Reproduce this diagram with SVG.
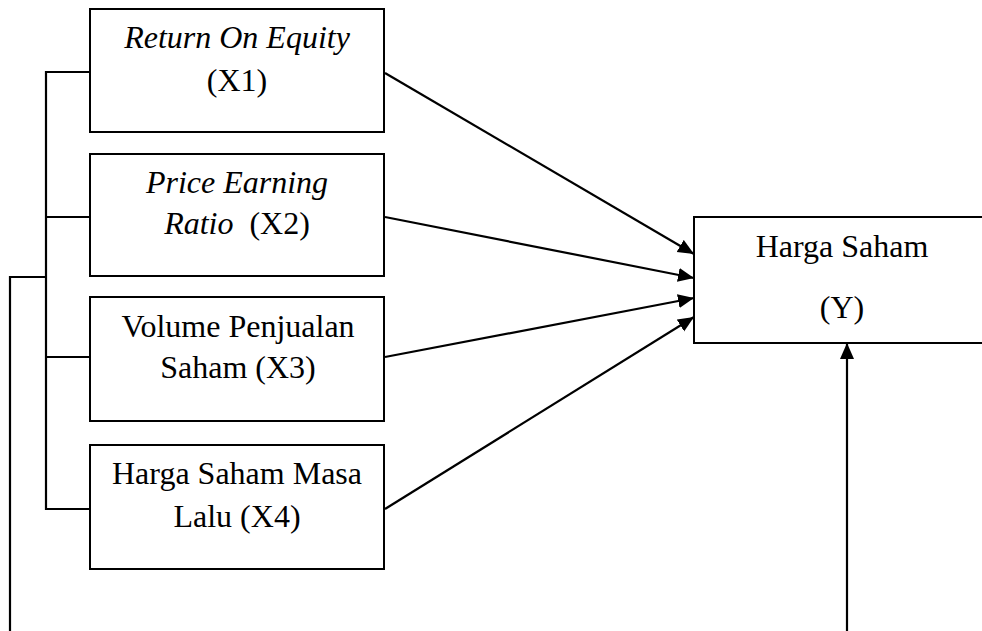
<svg xmlns="http://www.w3.org/2000/svg" width="982" height="631" viewBox="0 0 982 631">
<style>
.box{fill:#fff;stroke:#000;stroke-width:2}
.t{font-family:'Liberation Serif',Tinos,'Times New Roman',Times,'Noto Serif','DejaVu Serif',serif;font-size:32px;fill:#000;text-anchor:middle}
.i{font-style:italic}
.ln{fill:none;stroke:#000;stroke-width:2.2}
</style>
<defs>
<marker id="arr" markerUnits="userSpaceOnUse" markerWidth="18" markerHeight="16" refX="16" refY="7" orient="auto">
<path d="M0,0 L16,7 L0,14 z" fill="#000"/>
</marker>
</defs>
<rect width="982" height="631" fill="#fff"/>
<g id="connectors">
<polyline class="ln" points="90,72 46,72 46,509 90,509"/>
<line class="ln" x1="46" y1="217" x2="90" y2="217"/>
<line class="ln" x1="46" y1="357" x2="90" y2="357"/>
<polyline class="ln" points="46,277 10,277 10,631"/>
<line class="ln" x1="385" y1="73" x2="694" y2="254" marker-end="url(#arr)"/>
<line class="ln" x1="385" y1="217" x2="694" y2="278" marker-end="url(#arr)"/>
<line class="ln" x1="385" y1="357" x2="694" y2="298" marker-end="url(#arr)"/>
<line class="ln" x1="385" y1="509" x2="694" y2="317" marker-end="url(#arr)"/>
<line class="ln" x1="847" y1="631" x2="847" y2="343" marker-end="url(#arr)"/>
</g>
<g id="x1">
<rect class="box" x="90" y="9" width="294" height="123"/>
<text class="t i" x="237" y="48" font-family="Liberation Serif">Return On Equity</text>
<text class="t" x="237" y="91" font-family="Liberation Serif">(X1)</text>
</g>
<g id="x2">
<rect class="box" x="90" y="154" width="294" height="122"/>
<text class="t i" x="237" y="193">Price Earning</text>
<text class="t" x="237" y="234" xml:space="preserve"><tspan class="i">Ratio</tspan>  (X2)</text>
</g>
<g id="x3">
<rect class="box" x="90" y="297" width="294" height="124"/>
<text class="t" x="238" y="337">Volume Penjualan</text>
<text class="t" x="238" y="378">Saham (X3)</text>
</g>
<g id="x4">
<rect class="box" x="90" y="445" width="294" height="124"/>
<text class="t" x="237" y="484">Harga Saham Masa</text>
<text class="t" x="237" y="527">Lalu (X4)</text>
</g>
<g id="y">
<rect class="box" x="694" y="217" width="300" height="126"/>
<text class="t" x="842" y="257">Harga Saham</text>
<text class="t" x="842" y="318">(Y)</text>
</g>
</svg>
